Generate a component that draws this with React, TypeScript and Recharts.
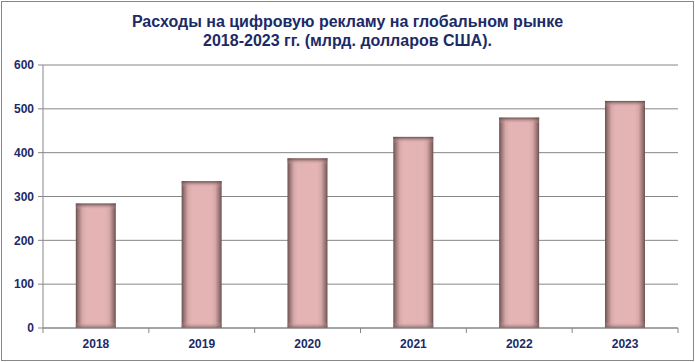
import { Bar, BarChart, CartesianGrid, XAxis, YAxis } from "recharts";

const years = ["2018", "2019", "2020", "2021", "2022", "2023"];
const spending = [284, 335, 387, 436, 480, 518];
const yTicks = [0, 100, 200, 300, 400, 500, 600];
const edgeTicks = [0, 1, 2, 3, 4, 5, 6];

const data = years.map((year, i) => ({ year, idx: i + 0.5, value: spending[i] }));

const navy = "#1c2a66";
const grey = "#878787";

function ShadedBar(props: any) {
  const { x, y, width, height } = props;
  if (!height || height <= 0) return null;
  const edge = Math.min(6, height / 2);
  return (
    <g>
      <rect x={x} y={y} width={width} height={height} fill="url(#barSide)" />
      <rect x={x} y={y} width={width} height={edge} fill="url(#barTop)" />
      <rect x={x} y={y + height - edge} width={width} height={edge} fill="url(#barBottom)" />
    </g>
  );
}

export default function App() {
  return (
    <div
      style={{
        position: "absolute",
        left: 0,
        top: 0,
        width: 695,
        height: 362,
        background: "#fff",
        fontFamily: "'Liberation Sans', Arial, sans-serif",
      }}
    >
      <div
        style={{
          position: "absolute",
          left: 1,
          top: 1,
          width: 691,
          height: 358,
          border: `1px solid ${grey}`,
        }}
      />
      <div
        style={{
          position: "absolute",
          top: 12,
          left: 0,
          width: 695,
          textAlign: "center",
          color: navy,
          fontWeight: "bold",
          fontSize: 16,
          lineHeight: "19px",
        }}
      >
        Расходы на цифровую рекламу на глобальном рынке
        <br />
        2018-2023 гг. (млрд. долларов США).
      </div>
      <BarChart
        width={695}
        height={362}
        data={data}
        margin={{ top: 65, right: 17, bottom: 4, left: 0 }}
        barCategoryGap="31%"
        style={{ position: "absolute", left: 0, top: 0 }}
      >
        <defs>
          <linearGradient id="barSide" x1="0" y1="0" x2="1" y2="0">
            <stop offset="0%" stopColor="#6a5050" />
            <stop offset="6%" stopColor="#9a7474" />
            <stop offset="16%" stopColor="#d6a8a8" />
            <stop offset="26%" stopColor="#e4b4b4" />
            <stop offset="74%" stopColor="#e4b4b4" />
            <stop offset="84%" stopColor="#d6a8a8" />
            <stop offset="94%" stopColor="#9a7474" />
            <stop offset="100%" stopColor="#6a5050" />
          </linearGradient>
          <linearGradient id="barTop" x1="0" y1="0" x2="0" y2="1">
            <stop offset="0%" stopColor="#5e4444" stopOpacity={0.9} />
            <stop offset="100%" stopColor="#e4b4b4" stopOpacity={0} />
          </linearGradient>
          <linearGradient id="barBottom" x1="0" y1="0" x2="0" y2="1">
            <stop offset="0%" stopColor="#e4b4b4" stopOpacity={0} />
            <stop offset="100%" stopColor="#6a5050" stopOpacity={0.7} />
          </linearGradient>
        </defs>
        <CartesianGrid vertical={false} stroke={grey} strokeWidth={1} xAxisId="b_cat" />
        <XAxis
          xAxisId="a_edges"
          type="number"
          dataKey="idx"
          domain={[0, 6]}
          ticks={edgeTicks}
          axisLine={{ stroke: grey }}
          tickLine={{ stroke: grey }}
          tickSize={5}
          tick={() => <g />}
          height={6}
        />
        <XAxis
          dataKey="year"
          xAxisId="b_cat"
          height={24}
          axisLine={false}
          tickLine={false}
          tickSize={0}
          tickMargin={5}
          tick={{ fill: navy, fontSize: 12, fontWeight: "bold" }}
        />
        <YAxis
          width={43}
          domain={[0, 600]}
          ticks={yTicks}
          axisLine={{ stroke: grey }}
          tickLine={{ stroke: grey }}
          tickSize={5}
          tickMargin={4}
          tick={{ fill: navy, fontSize: 12, fontWeight: "bold" }}
        />
        <Bar
          dataKey="value"
          xAxisId="b_cat"
          shape={<ShadedBar />}
          isAnimationActive={false}
        />
      </BarChart>
    </div>
  );
}
